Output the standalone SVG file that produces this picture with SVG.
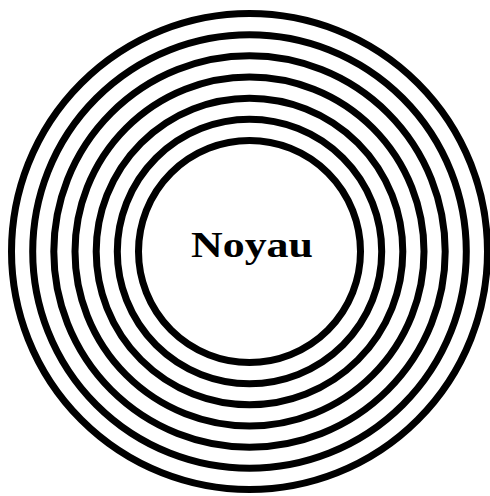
<svg xmlns="http://www.w3.org/2000/svg" width="490" height="496" viewBox="0 0 490 496">
<style>
.ring{fill:none;stroke:#000;stroke-width:7}
.lbl{font-family:"Liberation Serif","Times New Roman",serif;font-weight:bold;font-size:35px;fill:#000}
</style>
<rect width="490" height="496" fill="#fff"/>
<g id="rings">
<circle class="ring" cx="249.5" cy="251.5" r="238"/>
<circle class="ring" cx="249.5" cy="251.5" r="216.8"/>
<circle class="ring" cx="249.5" cy="251.5" r="195.7"/>
<circle class="ring" cx="249.5" cy="251.5" r="174.5"/>
<circle class="ring" cx="249.5" cy="251.5" r="153.3"/>
<circle class="ring" cx="249.5" cy="251.5" r="132.2"/>
<circle class="ring" cx="249.5" cy="251.5" r="111"/>
</g>
<g id="noyau">
<text class="lbl" x="191" y="256.5" textLength="122" lengthAdjust="spacingAndGlyphs">Noyau</text>
</g>
</svg>
